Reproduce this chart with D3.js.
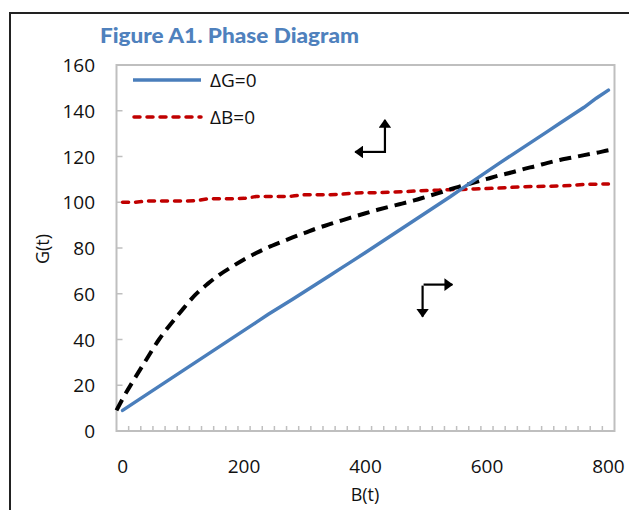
<!DOCTYPE html>
<html>
<head>
<meta charset="utf-8">
<script src="https://cdn.jsdelivr.net/npm/d3@7"></script>
<style>
  body { margin: 0; background: #fff; }
  text { font-family: "Open Sans", "Noto Sans", sans-serif; fill: #111; }
</style>
</head>
<body>
<div id="chart"></div>
<script>
// B(t) categories, one every 20
var bValues = d3.range(0, 801, 20);

// dG = 0 isocline
var gIso = [9, 12.5, 16, 19.5, 23, 26.5, 30, 33.5, 37, 40.5, 44, 47.5, 51, 54.3, 57.6,
  61, 64.4, 67.8, 71.2, 74.6, 78, 81.5, 85, 88.5, 92, 95.5, 99, 102.5, 106.2, 109.8,
  113.4, 117, 120.5, 124, 127.5, 131, 134.5, 138, 141.5, 145.5, 149];

// dB = 0 isocline
var bIso = [100, 100, 100.5, 100.5, 100.5, 100.5, 100.7, 101.5, 101.5, 101.5, 101.7,
  102.5, 102.5, 102.5, 102.7, 103.3, 103.3, 103.3, 103.5, 104, 104.2, 104.2, 104.4,
  104.6, 104.9, 105.1, 105.3, 105.5, 105.6, 105.8, 106, 106.2, 106.5, 106.8, 106.9,
  107, 107.1, 107.4, 107.8, 107.9, 108];

// trajectory (black dashed), from plot edge to plot edge
var pathB = [-10, 0, 20, 40, 60, 80, 100, 120, 140, 160, 180, 200, 220, 240, 260, 280,
  300, 320, 340, 360, 380, 400, 420, 440, 460, 480, 500, 520, 540, 560, 580, 600,
  620, 640, 660, 680, 700, 720, 740, 760, 780, 800, 810];
var pathG = [9, 14, 23, 31.6, 40, 47, 53.5, 59.6, 64.3, 68.4, 71.8, 75, 77.8, 80.3,
  82.5, 84.6, 86.6, 88.6, 90.3, 92, 93.6, 95.2, 96.7, 98.1, 99.4, 100.8, 102.4, 104,
  105.7, 107.2, 108.7, 110.2, 111.7, 113, 114.5, 115.8, 117.2, 118.5, 119.5, 120.6,
  121.6, 122.7, 123.2];

var xTickLabels = [0, 200, 400, 600, 800];
var yTickLabels = [0, 20, 40, 60, 80, 100, 120, 140, 160];

// direction arrows: corner + two tips, in data units
var arrows = [
  {corner: [432, 122], hTip: 383, vTip: 136},
  {corner: [494, 64], hTip: 543, vTip: 50}
];

var width = 629, height = 510;
var svg = d3.select("#chart").append("svg")
  .attr("width", width)
  .attr("height", height);

var x = d3.scaleLinear().domain([-10, 810]).range([116.5, 614.5]);
var y = d3.scaleLinear().domain([0, 160]).range([431, 65]);

var blue = "#4a7ebb", red = "#c00000";

// outer frame
svg.append("path")
  .attr("d", "M10,520 L10,13 L640,13")
  .attr("fill", "none")
  .attr("stroke", "#222")
  .attr("stroke-width", 2);

svg.append("text")
  .attr("x", 100).attr("y", 43)
  .style("font-family", "Lato, 'Open Sans', sans-serif")
  .style("font-weight", "900")
  .style("font-size", "20px")
  .style("fill", "#4f81bd")
  .attr("textLength", 259)
  .attr("lengthAdjust", "spacingAndGlyphs")
  .text("Figure A1. Phase Diagram");

// plot area
svg.append("rect")
  .attr("x", x(-10)).attr("y", y(160))
  .attr("width", x(810) - x(-10))
  .attr("height", y(0) - y(160))
  .attr("fill", "none")
  .attr("stroke", "#bfbfbf")
  .attr("stroke-width", 2);

// inside ticks on y
svg.append("g").selectAll("line")
  .data(yTickLabels.slice(1, -1)).enter()
  .append("line")
  .attr("x1", x(-10)).attr("x2", x(-10) + 6)
  .attr("y1", function(d) { return y(d); })
  .attr("y2", function(d) { return y(d); })
  .attr("stroke", "#bfbfbf").attr("stroke-width", 1.5);

// inside ticks on x, between categories
svg.append("g").selectAll("line")
  .data(d3.range(10, 801, 20)).enter()
  .append("line")
  .attr("x1", function(d) { return x(d); })
  .attr("x2", function(d) { return x(d); })
  .attr("y1", y(0)).attr("y2", y(0) - 5)
  .attr("stroke", "#bfbfbf").attr("stroke-width", 1.5);

svg.append("g").selectAll("text")
  .data(yTickLabels).enter()
  .append("text")
  .attr("x", 95)
  .attr("y", function(d) { return y(d) + 7; })
  .attr("text-anchor", "end")
  .style("font-size", "19px")
  .text(function(d) { return d; });

svg.append("g").selectAll("text")
  .data(xTickLabels).enter()
  .append("text")
  .attr("x", function(d) { return x(d); })
  .attr("y", 473)
  .attr("text-anchor", "middle")
  .style("font-size", "19px")
  .text(function(d) { return d; });

svg.append("text")
  .attr("transform", "translate(49,249) rotate(-90)")
  .attr("text-anchor", "middle")
  .style("font-size", "18px")
  .text("G(t)");

svg.append("text")
  .attr("x", 365).attr("y", 501)
  .attr("text-anchor", "middle")
  .style("font-size", "18px")
  .text("B(t)");

var line = d3.line()
  .x(function(d) { return x(d[0]); })
  .y(function(d) { return y(d[1]); });

svg.append("path")
  .datum(d3.zip(bValues, bIso))
  .attr("d", line)
  .attr("fill", "none")
  .attr("stroke", red)
  .attr("stroke-width", 3.5)
  .attr("stroke-linecap", "round")
  .attr("stroke-dasharray", "6,7");

svg.append("path")
  .datum(d3.zip(pathB, pathG))
  .attr("d", line.curve(d3.curveMonotoneX))
  .attr("fill", "none")
  .attr("stroke", "#000")
  .attr("stroke-width", 4)
  .attr("stroke-dasharray", "12,7");

svg.append("path")
  .datum(d3.zip(bValues, gIso))
  .attr("d", line.curve(d3.curveLinear))
  .attr("fill", "none")
  .attr("stroke", blue)
  .attr("stroke-width", 3.5)
  .attr("stroke-linecap", "round");

// legend
var legend = svg.append("g");
legend.append("line")
  .attr("x1", 133).attr("x2", 201).attr("y1", 80).attr("y2", 80)
  .attr("stroke", blue).attr("stroke-width", 3.5);
legend.append("line")
  .attr("x1", 134).attr("x2", 201).attr("y1", 117).attr("y2", 117)
  .attr("stroke", red).attr("stroke-width", 3.5)
  .attr("stroke-linecap", "round")
  .attr("stroke-dasharray", "6,7");
legend.append("text").attr("x", 210).attr("y", 87)
  .style("font-size", "19px").text("\u0394G=0");
legend.append("text").attr("x", 210).attr("y", 124)
  .style("font-size", "19px").text("\u0394B=0");

// arrows
svg.append("defs").append("marker")
  .attr("id", "head")
  .attr("viewBox", "0 0 10 10")
  .attr("refX", 9).attr("refY", 5)
  .attr("markerWidth", 4).attr("markerHeight", 5.8)
  .attr("markerUnits", "strokeWidth")
  .attr("orient", "auto")
  .attr("preserveAspectRatio", "none")
  .append("path")
  .attr("d", "M0,0 L10,5 L0,10 Z")
  .attr("fill", "#000");

var arr = svg.append("g").selectAll("g").data(arrows).enter().append("g");
arr.append("line")
  .attr("x1", function(d) { return x(d.corner[0]) + 1; })
  .attr("y1", function(d) { return y(d.corner[1]); })
  .attr("x2", function(d) { return x(d.hTip); })
  .attr("y2", function(d) { return y(d.corner[1]); })
  .attr("stroke", "#000").attr("stroke-width", 2.2)
  .attr("marker-end", "url(#head)");
arr.append("line")
  .attr("x1", function(d) { return x(d.corner[0]); })
  .attr("y1", function(d) { return y(d.corner[1]) + 1; })
  .attr("x2", function(d) { return x(d.corner[0]); })
  .attr("y2", function(d) { return y(d.vTip); })
  .attr("stroke", "#000").attr("stroke-width", 2.2)
  .attr("marker-end", "url(#head)");
</script>
</body>
</html>
